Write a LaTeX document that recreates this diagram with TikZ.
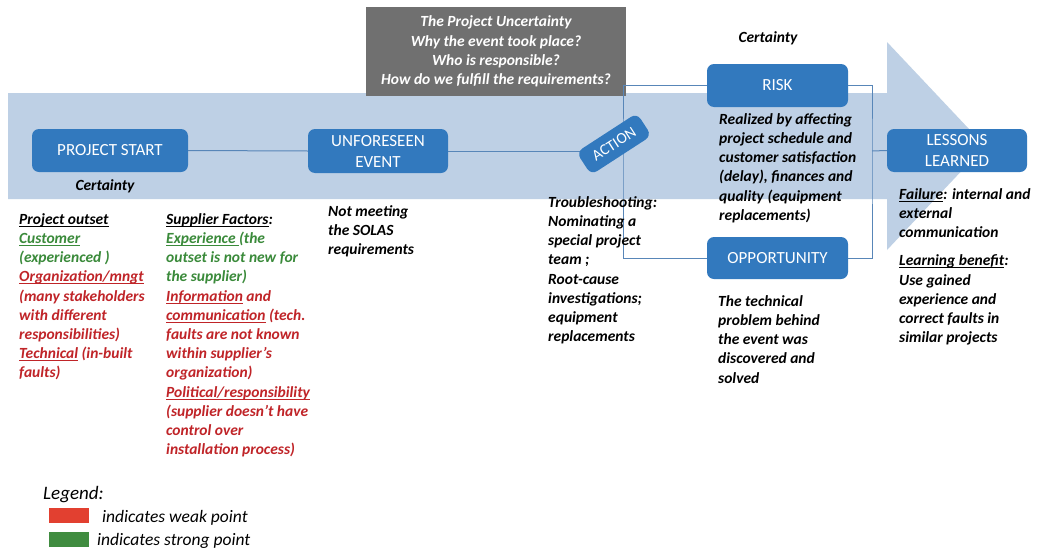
\documentclass[tikz,border=0pt]{standalone}
\usepackage{fontspec}
\setmainfont{Carlito}
% underline drawn at a fixed depth below the baseline
\newcommand{\uln}[1]{\leavevmode\setbox0\hbox{#1}\rlap{\rule[-2.6pt]{\wd0}{1pt}}\box0\relax}
\definecolor{bandblue}{RGB}{190,208,229}
\definecolor{boxblue}{RGB}{50,121,190}
\definecolor{linkblue}{RGB}{88,134,184}
\definecolor{qgrey}{RGB}{112,112,112}
\definecolor{weak}{RGB}{192,36,40}
\definecolor{good}{RGB}{58,138,58}
\definecolor{weakfill}{RGB}{226,64,48}
\definecolor{goodfill}{RGB}{64,140,64}
\begin{document}
\begin{tikzpicture}[x=1pt,y=-1pt,
  stage/.style={draw=none, fill=boxblue, rounded corners=7pt, text=white,
    align=center, inner sep=0pt, font=\fontsize{17}{21}\selectfont},
  link/.style={draw=linkblue, line width=1pt},
  txt/.style={anchor=north west, inner sep=0pt, align=left,
    font=\fontsize{15.5}{19.2}\selectfont\bfseries\itshape},
  tag/.style={inner sep=0pt, font=\fontsize{15.5}{19.2}\selectfont\bfseries\itshape},
  swatch/.style={draw=none, minimum width=40pt, minimum height=15pt, inner sep=0pt},
  legendtxt/.style={anchor=base west, inner sep=0pt, font=\fontsize{17.5}{21}\selectfont\itshape}]

\useasboundingbox (0,0) rectangle (1039,549);
\fill[white] (0,0) rectangle (1039,549);

% the timeline arrow
\fill[bandblue] (8,93) -- (887,93) -- (887,42) -- (985,146) -- (887,250)
  -- (887,199) -- (8,199) -- cycle;

% question box
\node[fill=qgrey, minimum width=260pt, minimum height=89pt, inner sep=0pt,
  text=white, align=center, font=\fontsize{15.5}{19.3}\selectfont\bfseries\itshape]
  (question) at (496,51.5)
  {The Project Uncertainty\\ Why the event took place?\\ Who is responsible?\\
   How do we fulfill the requirements?};

% stages
\node[stage, minimum width=156pt, minimum height=43pt] (start) at (110,150.5) {PROJECT START};
\node[stage, minimum width=140pt, minimum height=44pt] (event) at (378,151) {UNFORESEEN\\ EVENT};
\node[stage, minimum width=141pt, minimum height=43pt] (risk) at (777.5,85.5) {RISK};
\node[stage, minimum width=141pt, minimum height=42pt] (opp) at (777.5,258) {OPPORTUNITY};
\node[stage, minimum width=140pt, minimum height=43pt] (lessons) at (957,150.5) {LESSONS\\ LEARNED};

\coordinate (split) at (623,151);
\coordinate (join) at (872,151);

% connectors
\draw[link] (start.east) -- (event.west);
\draw[link] (event.east) -- (split);
\draw[link] (risk.west) -| (split) |- (opp.west);
\draw[link] (risk.east) -| (join) |- (opp.east);
\draw[link] (join) -- (lessons.west);

\node[stage, minimum width=72pt, minimum height=27pt, rotate=33,
  font=\fontsize{15.5}{18}\selectfont] (action) at (614,144) {ACTION};

% labels
\node[tag] (cert1) at (105,186) {Certainty};
\node[tag] (cert2) at (768,38) {Certainty};

\node[txt] (outset) at (19,210.6) {\strut\uln{Project outset}\\
  \textcolor{good}{\uln{Customer}}\\
  \textcolor{good}{(experienced )}\\
  \textcolor{weak}{\uln{Organization/mngt}}\\
  \textcolor{weak}{(many stakeholders}\\
  \textcolor{weak}{with different}\\
  \textcolor{weak}{responsibilities)}\\
  \textcolor{weak}{\uln{Technical} (in-built}\\
  \textcolor{weak}{faults)}};

\node[txt] (supplier) at (166,210.6) {\strut\uln{Supplier Factors}:\\
  \textcolor{good}{\uln{Experience\ }(the}\\
  \textcolor{good}{outset is not new for}\\
  \textcolor{good}{the supplier)}\\
  \textcolor{weak}{\uln{Information} and}\\
  \textcolor{weak}{\uln{communication} (tech.}\\
  \textcolor{weak}{faults are not known}\\
  \textcolor{weak}{within supplier’s}\\
  \textcolor{weak}{organization)}\\
  \textcolor{weak}{\uln{Political/responsibility}}\\
  \textcolor{weak}{(supplier doesn’t have}\\
  \textcolor{weak}{control over}\\
  \textcolor{weak}{installation process)}};

\node[txt] (solas) at (328,202.6) {\strut Not meeting\\ the SOLAS\\ requirements};

\node[txt] (trouble) at (548,193.6) {\strut Troubleshooting:\\ Nominating a\\
  special project\\ team ;\\ Root-cause\\ investigations;\\ equipment\\ replacements};

\node[txt] (realized) at (719,110.6) {\strut Realized by affecting\\ project schedule and\\
  customer satisfaction\\ (delay), finances and\\ quality (equipment\\ replacements)};

\node[txt] (solved) at (718,292.6) {\strut The technical\\ problem behind\\
  the event was\\ discovered and\\ solved};

\node[txt] (learned) at (899,185.6) {\strut\uln{Failure}: internal and\\ external\\
  communication\\[9pt] \uln{Learning benefit}:\\ Use gained\\ experience and\\
  correct faults in\\ similar projects};

% legend
\node[anchor=base west, inner sep=0pt, font=\fontsize{19}{22}\selectfont\itshape]
  (legend) at (43,499) {Legend:};
\node[swatch, fill=weakfill, anchor=north west] (weakbox) at (49,508) {};
\node[swatch, fill=goodfill, anchor=north west] (goodbox) at (49,532) {};
\node[legendtxt] (weaktxt) at (102,522) {indicates weak point};
\node[legendtxt] (goodtxt) at (97,545) {indicates strong point};
\end{tikzpicture}
\end{document}
